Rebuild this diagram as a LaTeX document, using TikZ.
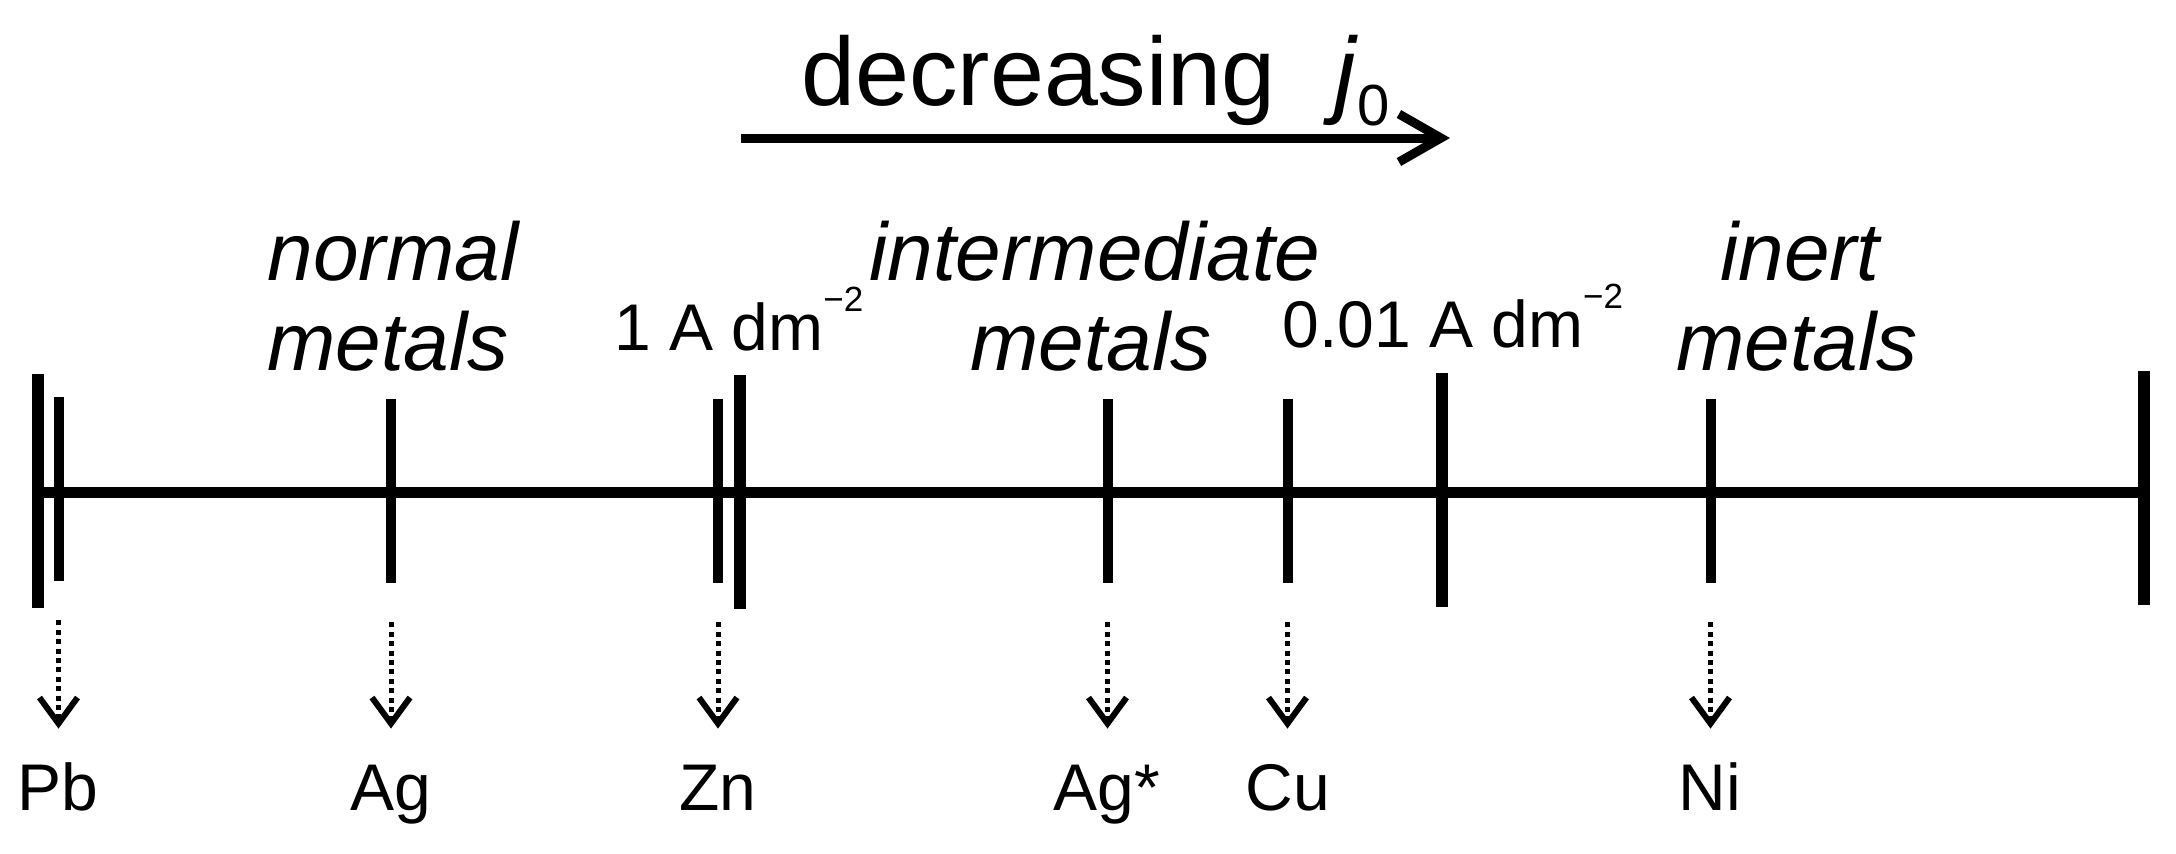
\documentclass[tikz,border=0pt]{standalone}
\usepackage{fontspec}
\setmainfont{Liberation Sans}
\usetikzlibrary{arrows.meta}
\newcommand\supm[1]{\raisebox{0.58em}{\fontsize{17.5}{17.5}\selectfont #1}}
\begin{document}
\begin{tikzpicture}[x=0.5pt,y=-0.5pt,
  thintick/.style={fill=black,inner sep=0pt,minimum width=5pt,minimum height=92pt},
  thickbar/.style={fill=black,inner sep=0pt,minimum width=6pt,minimum height=117pt},
  axisline/.style={line width=5.5pt},
  metal/.style={font=\fontsize{33}{40}\selectfont,inner sep=0pt,anchor=base,text height=23.5pt},
  region/.style={font=\fontsize{41}{48}\selectfont\itshape,inner sep=0pt,anchor=base},
  density/.style={font=\fontsize{33}{40}\selectfont,inner sep=0pt,anchor=base west},
  dotarrow/.style={line width=2.5pt,dash pattern=on 2.5pt off 2.2pt,-{Straight Barb[length=13pt,width=19pt,line width=3pt]},shorten <=19.5pt,shorten >=17pt},
  bigarrow/.style={line width=4.5pt,-{Straight Barb[length=21pt,width=24pt]}}
]
\fill[white] (0,0) rectangle (2176,853);
\useasboundingbox (0,0) rectangle (2176,853);

% title and arrow
\node[font=\fontsize{48.5}{56}\selectfont,inner sep=0pt,anchor=base west] (title) at (801,105)
  {decreasing\hspace{0.6em}\textit{j}\raisebox{-0.21em}{\fontsize{29}{29}\selectfont 0}};
\coordinate (da) at (741,138);
\coordinate (db) at (1450,138);
\draw[bigarrow] (da) -- (db);

% region labels
\node[region] (n1) at (393,280) {normal};
\node[region] (n2) at (388,370) {metals};
\node[region] (i1) at (1095,280) {intermediate};
\node[region] (i2) at (1091,370) {metals};
\node[region] (e1) at (1800,280) {inert};
\node[region] (e2) at (1797,370) {metals};

% current density labels
\node[density] (d1) at (614,350) {1 A dm\supm{−2}};
\node[density] (d2) at (1282,347) {0.01 A dm\supm{−2}};

% bars and ticks
\node[thickbar] (pbL) at (37.5,491) {};
\node[thintick] (tPb) at (58.5,489) {};
\node[thintick] (tAg) at (391,491) {};
\node[thintick] (tZn) at (718,491) {};
\node[thickbar] (bZn) at (739.5,492) {};
\node[thintick] (tAgs) at (1107.5,491) {};
\node[thintick] (tCu) at (1287.5,491) {};
\node[thickbar] (bCu) at (1442,490) {};
\node[thintick] (tNi) at (1710.5,491) {};
\node[thickbar] (rgt) at (2143.5,488) {};
\draw[axisline] (pbL.center |- 0,492) -- (rgt.center |- 0,492);

% metal labels
\node[metal] (lPb) at (58,810) {Pb};
\node[metal] (lAg) at (391,810) {Ag};
\node[metal] (lZn) at (718,810) {Zn};
\node[metal] (lAgs) at (1107,810) {Ag*};
\node[metal] (lCu) at (1288,810) {Cu};
\node[metal] (lNi) at (1710,810) {Ni};

% dotted arrows
\draw[dotarrow] (tPb.south) -- (tPb.south |- lPb.north);
\draw[dotarrow] (tAg.south) -- (tAg.south |- lAg.north);
\draw[dotarrow] (tZn.south) -- (tZn.south |- lZn.north);
\draw[dotarrow] (tAgs.south) -- (tAgs.south |- lAgs.north);
\draw[dotarrow] (tCu.south) -- (tCu.south |- lCu.north);
\draw[dotarrow] (tNi.south) -- (tNi.south |- lNi.north);
\end{tikzpicture}
\end{document}
